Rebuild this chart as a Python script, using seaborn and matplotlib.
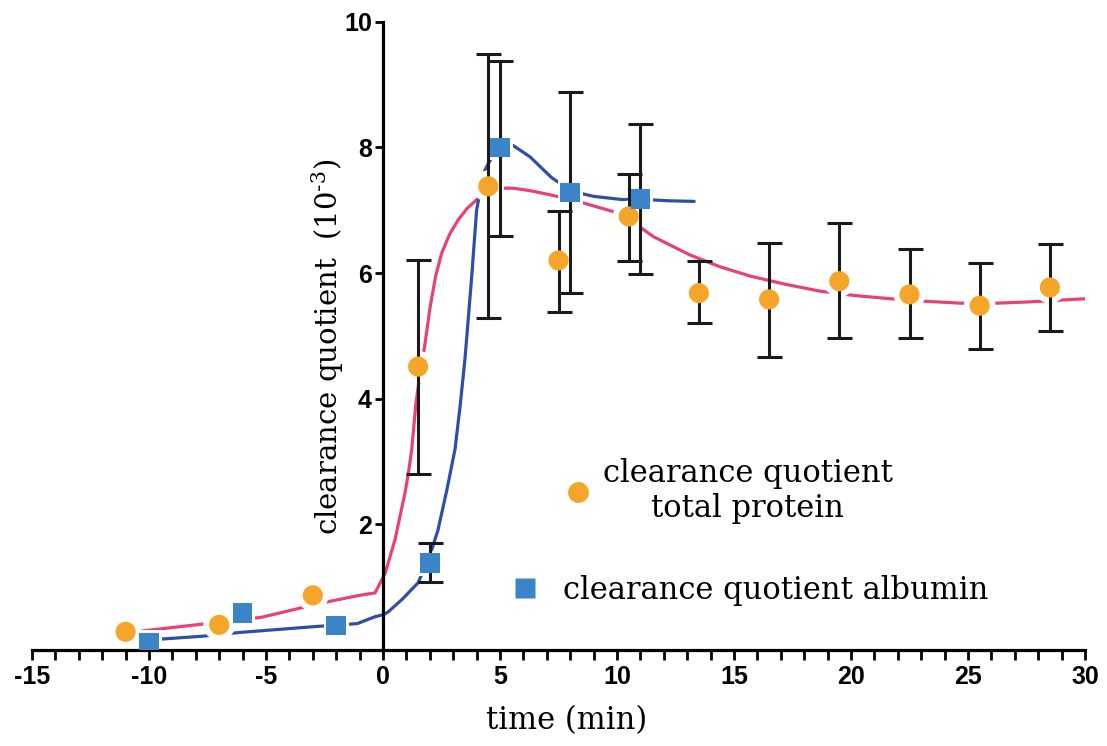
import numpy as np
import pandas as pd
import matplotlib
matplotlib.use("Agg")
import matplotlib.pyplot as plt
from matplotlib.lines import Line2D
from matplotlib.ticker import MultipleLocator, FixedLocator
import seaborn as sns

# ---------------- data ----------------
# measured points: clearance quotient total protein
tp_time = [-11, -7, -3, 1.5, 4.5, 7.5, 10.5, 13.5, 16.5, 19.5, 22.5, 25.5, 28.5]
tp_value = [0.29, 0.40, 0.87, 4.51, 7.38, 6.20, 6.90, 5.68, 5.58, 5.87, 5.66, 5.48, 5.77]
tp_upper = [np.nan, np.nan, np.nan, 6.20, 9.48, 6.98, 7.58, 6.19, 6.48, 6.80, 6.38, 6.16, 6.46]
tp_lower = [np.nan, np.nan, np.nan, 2.80, 5.29, 5.38, 6.19, 5.20, 4.67, 4.97, 4.97, 4.79, 5.08]

# measured points: clearance quotient albumin
alb_time = [-10, -6, -2, 2, 5, 8, 11]
alb_value = [0.11, 0.59, 0.39, 1.38, 8.00, 7.28, 7.18]
alb_upper = [np.nan, np.nan, np.nan, 1.70, 9.37, 8.88, 8.37]
alb_lower = [np.nan, np.nan, np.nan, 1.08, 6.59, 5.68, 5.99]

# fitted curves as drawn in the reference
tp_fit_time = [-10.6, -8.0, -5.2, -2.6, -1.0, -0.34, 0.09, 0.51, 0.94, 1.1, 1.23,
               1.4, 1.6, 1.79, 2.01, 2.25, 2.51, 2.85, 3.22, 3.6, 4.07, 4.5, 5.0,
               5.56, 6.3, 7.2, 8.0, 8.7, 10.1, 10.8, 11.55, 13.1, 14.4, 15.7, 17.2,
               18.7, 20.2, 21.7, 23.2, 24.7, 26.2, 27.6, 29.0, 30.0]
tp_fit_value = [0.29, 0.40, 0.52, 0.75, 0.87, 0.91, 1.22, 1.75, 2.50, 2.85, 3.20,
                3.90, 4.45, 4.86, 5.45, 5.95, 6.32, 6.62, 6.85, 7.03, 7.19, 7.30, 7.35,
                7.35, 7.31, 7.24, 7.17, 7.10, 6.95, 6.78, 6.58, 6.29, 6.10, 5.95, 5.82,
                5.71, 5.64, 5.59, 5.55, 5.52, 5.52, 5.54, 5.57, 5.59]

alb_fit_time = [-10.0, -7.7, -6.1, -3.0, -1.1, -0.34, 0.0, 0.2, 0.8, 1.5, 2.0, 2.35,
                2.73, 3.08, 3.3, 3.5, 3.65, 3.79, 4.0, 4.2, 4.36, 4.7, 5.07, 5.56,
                6.28, 7.2, 8.08, 9.0, 10.2, 11.2, 12.2, 13.3]
alb_fit_value = [0.16, 0.22, 0.28, 0.37, 0.42, 0.53, 0.56, 0.60, 0.80, 1.07, 1.50, 1.91,
                 2.55, 3.20, 3.90, 4.62, 5.30, 5.94, 7.00, 7.40, 7.64, 7.88, 8.02, 8.03,
                 7.85, 7.52, 7.30, 7.22, 7.17, 7.17, 7.15, 7.14]

x_ticks = [-15, -10, -5, 0, 5, 10, 15, 20, 25, 30]
y_ticks = [2, 4, 6, 8, 10]

label_tp = "clearance quotient\ntotal protein"
label_alb = "clearance quotient albumin"

# ---------------- style ----------------
sns.set_style("white")
plt.rcParams["font.family"] = ["DejaVu Serif"]
plt.rcParams["axes.unicode_minus"] = False
plt.rcParams["mathtext.default"] = "regular"
plt.rcParams["text.color"] = "black"
plt.rcParams["axes.labelcolor"] = "black"
plt.rcParams["xtick.color"] = "black"
plt.rcParams["ytick.color"] = "black"

ORANGE = "#F5A52A"
BLUE_MK = "#3C84C8"
PINK = "#E8417A"
BLUE_LN = "#2F4FA6"

fig = plt.figure(figsize=(11.07, 7.46), dpi=100)
ax = fig.add_axes([32 / 1107, 96 / 746, 1053 / 1107, 628.3 / 746])

tp_fit = pd.DataFrame({"t": tp_fit_time, "v": tp_fit_value})
alb_fit = pd.DataFrame({"t": alb_fit_time, "v": alb_fit_value})
tp = pd.DataFrame({"t": tp_time, "v": tp_value, "hi": tp_upper, "lo": tp_lower})
alb = pd.DataFrame({"t": alb_time, "v": alb_value, "hi": alb_upper, "lo": alb_lower})

# fitted curves
sns.lineplot(data=tp_fit, x="t", y="v", ax=ax, color=PINK, lw=2.3, sort=False,
             estimator=None, zorder=2)
sns.lineplot(data=alb_fit, x="t", y="v", ax=ax, color=BLUE_LN, lw=2.3, sort=False,
             estimator=None, zorder=2)

# white halos around the symbols (line gaps as in the reference)
sns.scatterplot(data=tp, x="t", y="v", ax=ax, marker="o", s=520, color="white",
                edgecolor="none", zorder=3, legend=False)
sns.scatterplot(data=alb, x="t", y="v", ax=ax, marker="s", s=330, color="white",
                edgecolor="none", zorder=3, legend=False)

# error bars
for df in (tp, alb):
    m = df["hi"].notna()
    d = df[m]
    ax.errorbar(d["t"], d["v"], yerr=[d["v"] - d["lo"], d["hi"] - d["v"]],
                fmt="none", ecolor="#1a1a1a", elinewidth=2.2, capsize=9,
                capthick=2.2, zorder=4)

# symbols
sns.scatterplot(data=tp, x="t", y="v", ax=ax, marker="o", s=210, color=ORANGE,
                edgecolor="none", zorder=5, legend=False)
sns.scatterplot(data=alb, x="t", y="v", ax=ax, marker="s", s=200, color=BLUE_MK,
                edgecolor="none", zorder=5, legend=False)

# ---------------- axes ----------------
ax.set_xlim(-15, 30)
ax.set_ylim(0, 10)
for s in ("top", "right"):
    ax.spines[s].set_visible(False)
ax.spines["left"].set_position(("data", 0))
for s in ("left", "bottom"):
    ax.spines[s].set_linewidth(2.3)
    ax.spines[s].set_color("black")
    ax.spines[s].set_zorder(3.5)

ax.xaxis.set_major_locator(FixedLocator(x_ticks))
ax.xaxis.set_minor_locator(MultipleLocator(1))
ax.yaxis.set_major_locator(FixedLocator(y_ticks))
ax.tick_params(axis="x", which="both", direction="out", length=7, width=2,
               color="black", bottom=True, pad=4)
ax.tick_params(axis="y", which="major", direction="out", length=6, width=2,
               color="black", left=True, pad=2)
tick_font = {"family": "Liberation Sans", "weight": "bold", "size": 18,
             "color": "black"}
ax.set_xticklabels([str(v) for v in x_ticks], fontdict=tick_font)
ax.set_yticklabels([str(v) for v in y_ticks], fontdict=tick_font)

ax.set_xlabel("time (min)", fontsize=22, color="black")
ax.xaxis.set_label_coords(0.508, -0.088)
ax.set_ylabel(r"clearance quotient  (10$^{\text{-}3}$)", fontsize=21, color="black")
ax.yaxis.set_label_coords(0.298, 0.482)
ax.grid(False)

# ---------------- legend ----------------
h_tp = Line2D([], [], ls="none", marker="o", ms=15, color=ORANGE, mec="none")
h_alb = Line2D([], [], ls="none", marker="s", ms=14, color=BLUE_MK, mec="none")
leg1 = ax.legend([h_tp], [label_tp], loc="center left", frameon=False,
                 bbox_to_anchor=(563 / 1107, 1 - 491 / 746),
                 bbox_transform=fig.transFigure, fontsize=22, borderpad=0,
                 borderaxespad=0, handlelength=1.0, handletextpad=0.3,
                 labelspacing=0, labelcolor="black")
for t in leg1.get_texts():
    t.set_multialignment("center")
ax.add_artist(leg1)
leg2 = ax.legend([h_alb], [label_alb], loc="center left", frameon=False,
                 bbox_to_anchor=(510 / 1107, 1 - 590 / 746),
                 bbox_transform=fig.transFigure, fontsize=22, borderpad=0,
                 borderaxespad=0, handlelength=1.0, handletextpad=0.73,
                 labelcolor="black")

fig.savefig("out.png", dpi=100, facecolor="white")
